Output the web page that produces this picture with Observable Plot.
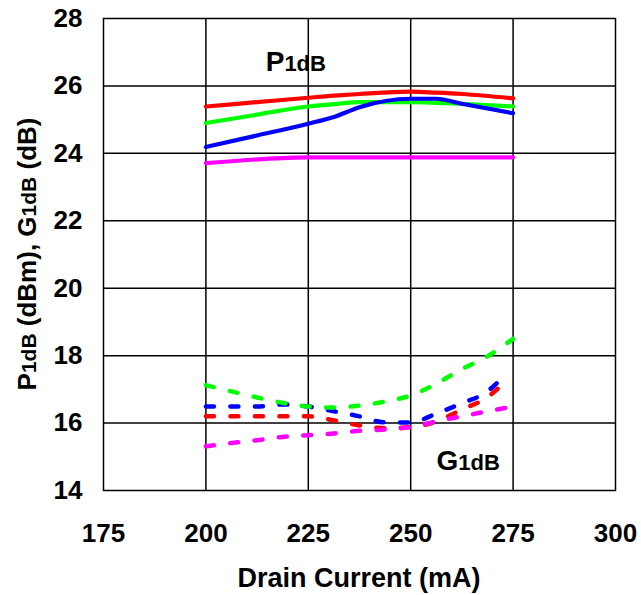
<!DOCTYPE html>
<html>
<head>
<meta charset="utf-8">
<script src="https://cdn.jsdelivr.net/npm/d3@7"></script>
<script src="https://cdn.jsdelivr.net/npm/@observablehq/plot@0.6"></script>
<style>
  html, body { margin: 0; padding: 0; background: #fff; }
  #chart { width: 641px; height: 595px; }
</style>
</head>
<body>
<div id="chart"></div>
<script>
// ---- data ----
const xTicks = [175, 200, 225, 250, 275, 300];
const yTicks = [14, 16, 18, 20, 22, 24, 26, 28];

// P1dB (solid lines)
const pX = [200, 212.5, 225, 231.25, 237.5, 250, 256.25, 262.5, 275];
const pRed     = [25.39, 25.52, 25.65, 25.71, 25.76, 25.83, 25.80, 25.76, 25.63];
const pGreen   = [24.90, 25.15, 25.39, 25.46, 25.52, 25.52, 25.50, 25.47, 25.39];
const pBlue    = [24.19, 24.53, 24.88, 25.08, 25.37, 25.62, 25.62, 25.47, 25.19];
const pMagenta = [23.71, 23.82, 23.88, 23.88, 23.88, 23.88, 23.88, 23.88, 23.88];

// G1dB (dotted lines)
const gX  = [200, 206.25, 212.5, 218.75, 225, 231.25, 237.5, 243.75, 250, 256.25, 262.5, 268.75, 275];
const gXs = [200, 206.25, 212.5, 218.75, 225, 231.25, 237.5, 243.75, 250, 256.25, 262.5, 268.75, 272];
const gRed     = [16.20, 16.20, 16.20, 16.20, 16.20, 16.08, 15.93, 15.85, 15.88, 16.05, 16.40, 16.77, 17.10];
const gBlue    = [16.49, 16.49, 16.49, 16.55, 16.49, 16.35, 16.20, 16.02, 16.02, 16.28, 16.59, 16.94, 17.30];
const gGreen   = [17.12, 16.94, 16.76, 16.60, 16.49, 16.46, 16.52, 16.64, 16.82, 17.17, 17.60, 17.98, 18.50];
const gMagenta = [15.31, 15.41, 15.49, 15.59, 15.64, 15.69, 15.77, 15.81, 15.88, 16.05, 16.20, 16.35, 16.49];

const seriesNames = ["S1", "S2", "S3", "S4"];           // red, green, blue, magenta
const seriesColors = ["#ff0000", "#00ff00", "#0000ff", "#ff00ff"];

function series(xs, ys, name) { return xs.map((x, i) => ({ x, y: ys[i], s: name })); }

const pData = [
  ...series(pX, pRed, "S1"), ...series(pX, pGreen, "S2"),
  ...series(pX, pBlue, "S3"), ...series(pX, pMagenta, "S4")
];
const gData = [
  ...series(gXs, gRed, "S1"), ...series(gXs, gBlue, "S3"),
  ...series(gX, gGreen, "S2"), ...series(gX, gMagenta, "S4")
];

const FONT = "'Liberation Sans', Arial, Helvetica, sans-serif";

const chart = Plot.plot({
  width: 641,
  height: 595,
  marginLeft: 103,
  marginRight: 26,
  marginTop: 18,
  marginBottom: 105,
  style: { fontFamily: FONT, fontSize: "26px", fontWeight: "bold", background: "#fff", color: "#000" },
  x: { domain: [175, 300], ticks: xTicks, tickSize: 0, tickPadding: 33, label: null },
  y: { domain: [14, 28], ticks: yTicks, tickSize: 0, tickPadding: 21, label: null },
  color: { type: "ordinal", domain: seriesNames, range: seriesColors },
  marks: [
    Plot.gridX(xTicks.slice(1, -1), { stroke: "#000", strokeOpacity: 1, strokeWidth: 1.5 }),
    Plot.gridY(yTicks.slice(1, -1), { stroke: "#000", strokeOpacity: 1, strokeWidth: 1.5 }),
    Plot.frame({ stroke: "#000", strokeWidth: 1.5 }),
    Plot.line(pData, { x: "x", y: "y", z: "s", stroke: "s", strokeWidth: 4.2, curve: "monotone-x" }),
    Plot.line(gData, { x: "x", y: "y", z: "s", stroke: "s", strokeWidth: 4.5, strokeDasharray: "8,16.5", curve: "monotone-x" }),
    Plot.text(["P1dB"], { x: 214.6, y: 26.7, text: d => d, textAnchor: "start", fontSize: 28, fontWeight: "bold", fill: "#000" }),
    Plot.text(["G1dB"], { x: 256.3, y: 14.88, text: d => d, textAnchor: "start", fontSize: 28, fontWeight: "bold", fill: "#000" })
  ]
});

document.getElementById("chart").appendChild(chart);

// subscript-style "1dB" in annotations
d3.select(chart).selectAll("text").each(function () {
  const t = d3.select(this);
  const s = t.text();
  if (s === "P1dB" || s === "G1dB") {
    t.text(null);
    t.append("tspan").text(s[0]);
    t.append("tspan").attr("font-size", 22).text(s.slice(1));
  }
});

const svg = d3.select(chart);
// x-axis title
svg.append("text")
  .attr("x", (103 + 615) / 2)
  .attr("y", 587)
  .attr("text-anchor", "middle")
  .attr("font-family", FONT)
  .attr("font-size", 27)
  .attr("font-weight", "bold")
  .text("Drain Current (mA)");

// y-axis title
const yl = svg.append("text")
  .attr("transform", `translate(36, 254) rotate(-90)`)
  .attr("text-anchor", "middle")
  .attr("font-family", FONT)
  .attr("font-size", 26)
  .attr("font-weight", "bold");
yl.append("tspan").text("P");
yl.append("tspan").attr("font-size", 21).text("1dB");
yl.append("tspan").text(" (dBm), G");
yl.append("tspan").attr("font-size", 21).text("1dB");
yl.append("tspan").text(" (dB)");
</script>
</body>
</html>
